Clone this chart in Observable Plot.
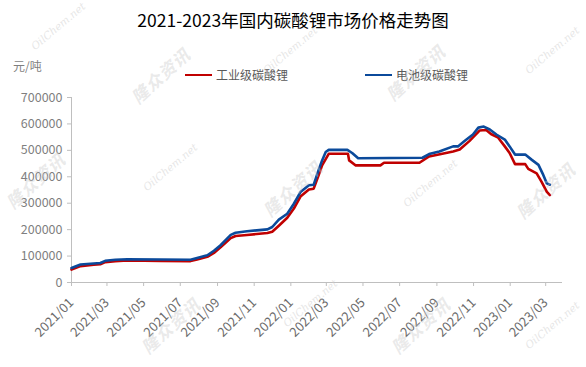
<!DOCTYPE html>
<html>
<head>
<meta charset="utf-8">
<script src="https://cdn.jsdelivr.net/npm/d3@7"></script>
<script src="https://cdn.jsdelivr.net/npm/@observablehq/plot@0.6"></script>
<style>
  html, body { margin: 0; padding: 0; background: #fff; }
  #wrap { position: relative; width: 586px; height: 367px; overflow: hidden; font-family: "Noto Sans CJK SC", "Noto Sans", sans-serif; background: #fff; }
  #header { position: relative; height: 85px; }
  .abs { position: absolute; white-space: nowrap; }
  #title { left: 0; width: 586px; top: 8px; text-align: center; font-size: 17.5px; color: #000; line-height: 24px; }
  #unit { left: 13px; top: 58px; font-size: 12px; color: #7f7f7f; line-height: 16px; }
  .leg { top: 67px; font-size: 12px; color: #595959; line-height: 16px; display: flex; align-items: center; }
  .leg .sw { width: 27px; height: 2.5px; margin-right: 4px; }
  #chart { position: absolute; left: 0; top: 85px; }
  #wm { position: absolute; left: 0; top: 0; width: 586px; height: 367px; pointer-events: none; }
  .wm1 { position: absolute; font-size: 17px; font-weight: bold; font-style: italic; color: rgba(200,200,200,0.4); transform: translate(-50%,-50%) rotate(-42deg); white-space: nowrap; letter-spacing: 1px; }
  .wm2 { position: absolute; font-size: 10.5px; font-style: italic; font-family: "DejaVu Serif", "Liberation Serif", serif; color: rgba(205,205,205,0.5); transform: translate(-50%,-50%) rotate(-40deg); white-space: nowrap; }
</style>
</head>
<body>
<div id="wrap">
  <div id="header">
    <div id="title" class="abs">2021-2023年国内碳酸锂市场价格走势图</div>
    <div id="unit" class="abs">元/吨</div>
    <div class="abs leg" style="left:185px"><span class="sw" style="background:#c00000"></span>工业级碳酸锂</div>
    <div class="abs leg" style="left:365px"><span class="sw" style="background:#0b4a9b"></span>电池级碳酸锂</div>
  </div>
  <div id="chart"></div>
  <div id="wm"></div>
</div>
<script>
// ---- data ----
const seriesNames = ["工业级碳酸锂", "电池级碳酸锂"];

const redDates = ["2021-01-01","2021-01-16","2021-02-07","2021-02-18","2021-02-26","2021-03-15","2021-04-04","2021-05-29","2021-07-18","2021-07-29","2021-08-15","2021-08-26","2021-09-06","2021-09-23","2021-10-01","2021-10-20","2021-11-23","2021-12-01","2021-12-12","2021-12-26","2022-01-06","2022-01-17","2022-01-31","2022-02-08","2022-02-16","2022-02-22","2022-03-05","2022-04-06","2022-04-08","2022-04-19","2022-05-30","2022-06-05","2022-08-03","2022-08-19","2022-09-28","2022-10-09","2022-10-25","2022-11-11","2022-11-22","2022-11-30","2022-12-12","2022-12-23","2022-12-31","2023-01-09","2023-01-26","2023-01-31","2023-02-14","2023-02-22","2023-03-03","2023-03-08"];
const redValues = [49000,62000,67000,69000,77000,81000,83000,82000,81000,87000,97000,112000,133000,168000,176000,180000,187000,192000,215000,245000,280000,325000,352000,355000,405000,443000,487000,487000,462000,443000,443000,453000,453000,477000,496000,503000,535000,575000,577000,562000,548000,515000,490000,448000,448000,430000,413000,382000,343000,331000];

const blueDates = ["2021-01-01","2021-01-16","2021-02-07","2021-02-18","2021-02-26","2021-03-15","2021-04-04","2021-05-29","2021-07-18","2021-07-29","2021-08-15","2021-08-26","2021-09-06","2021-09-23","2021-10-01","2021-10-20","2021-11-23","2021-12-01","2021-12-12","2021-12-26","2022-01-06","2022-01-17","2022-01-31","2022-02-08","2022-02-16","2022-02-22","2022-02-28","2022-03-05","2022-04-05","2022-04-13","2022-04-23","2022-08-08","2022-08-19","2022-09-05","2022-09-28","2022-10-06","2022-10-17","2022-10-31","2022-11-09","2022-11-18","2022-11-28","2022-12-09","2022-12-23","2022-12-31","2023-01-09","2023-01-26","2023-02-06","2023-02-17","2023-02-25","2023-03-03","2023-03-08"];
const blueValues = [55000,68000,72000,74000,82000,86000,88000,87000,86000,93000,103000,120000,141000,180000,188000,194000,201000,210000,238000,260000,298000,342000,368000,370000,424000,462000,494000,502000,502000,490000,470000,472000,486000,496000,515000,515000,535000,560000,586000,590000,579000,560000,541000,515000,484000,484000,464000,445000,407000,375000,370000];

const xTickLabels = ["2021/01","2021/03","2021/05","2021/07","2021/09","2021/11","2022/01","2022/03","2022/05","2022/07","2022/09","2022/11","2023/01","2023/03"];
const yTickValues = [0,100000,200000,300000,400000,500000,600000,700000];

// ---- build tables ----
const parse = d3.utcParse("%Y-%m-%d");
const redData = redDates.map((d, i) => ({date: parse(d), value: redValues[i], series: seriesNames[0]}));
const blueData = blueDates.map((d, i) => ({date: parse(d), value: blueValues[i], series: seriesNames[1]}));
const tickDates = xTickLabels.map(s => d3.utcParse("%Y/%m")(s));
const fmt = d3.utcFormat("%Y/%m");
const xStart = parse("2021-01-01");
const xEnd = parse("2023-03-29");

const chart = Plot.plot({
  width: 586,
  height: 282,
  marginTop: 12,
  marginBottom: 85,
  marginLeft: 71,
  marginRight: 24,
  style: {fontFamily: '"Noto Sans CJK SC", "Noto Sans", sans-serif', fontSize: "12px", background: "transparent", overflow: "visible"},
  x: {type: "utc", domain: [xStart, xEnd]},
  y: {domain: [0, 700000]},
  marks: [
    Plot.axisY({ticks: yTickValues, tickFormat: d => String(d), tickSize: 4, tickPadding: 5, stroke: "#bfbfbf", fill: "#7f7f7f", label: null, fontSize: 12.5}),
    Plot.axisX({ticks: tickDates, tickFormat: fmt, tickRotate: -45, tickSize: 4, tickPadding: 14, stroke: "#bfbfbf", fill: "#6b6b6b", label: null, fontSize: 13}),
    Plot.ruleX([xStart], {stroke: "#bfbfbf"}),
    Plot.ruleY([0], {stroke: "#bfbfbf"}),
    Plot.lineY(redData, {x: "date", y: "value", stroke: "#c00000", strokeWidth: 2.6}),
    Plot.lineY(blueData, {x: "date", y: "value", stroke: "#0b4a9b", strokeWidth: 2.6})
  ]
});
document.getElementById("chart").appendChild(chart);

// ---- watermarks ----
const wm = document.getElementById("wm");
const wmBrand = [[160,75],[415,72],[35,180],[292,188],[545,190],[170,325],[420,325]];
const wmSite = [[58,26],[290,50],[552,50],[170,167],[430,183],[310,303],[552,325]];
wmBrand.forEach(([x,y]) => { const e = document.createElement("div"); e.className = "wm1"; e.style.left = x+"px"; e.style.top = y+"px"; e.textContent = "隆众资讯"; wm.appendChild(e); });
wmSite.forEach(([x,y]) => { const e = document.createElement("div"); e.className = "wm2"; e.style.left = x+"px"; e.style.top = y+"px"; e.textContent = "OilChem.net"; wm.appendChild(e); });
</script>
</body>
</html>
